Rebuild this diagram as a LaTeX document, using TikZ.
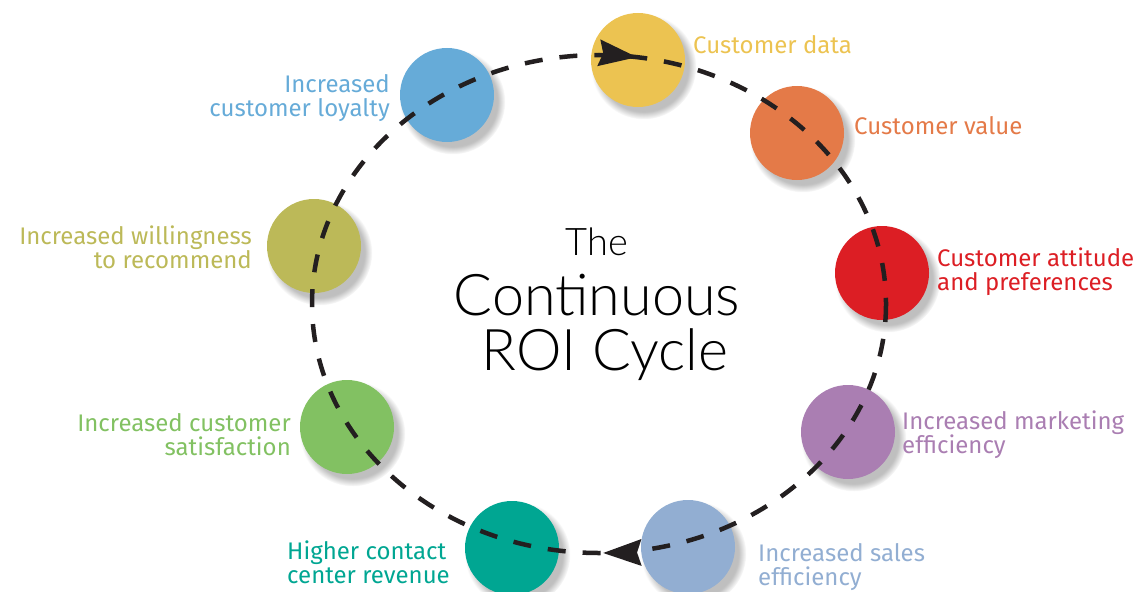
\documentclass[tikz,border=0pt]{standalone}
\usepackage{fontspec}
\usepackage{tikz}
\usetikzlibrary{arrows.meta}
\usetikzlibrary{shadows}
\usetikzlibrary{decorations.markings}
\newfontfamily\labelfont{Fira Sans}
\newfontfamily\titlefont{Lato Light}
\definecolor{ink}{RGB}{35,31,32}
\definecolor{cdata}{RGB}{236,195,81}
\definecolor{cvalue}{RGB}{228,122,72}
\definecolor{cattit}{RGB}{220,30,36}
\definecolor{mkt}{RGB}{170,126,178}
\definecolor{sales}{RGB}{146,174,210}
\definecolor{contact}{RGB}{0,166,146}
\definecolor{satis}{RGB}{130,193,98}
\definecolor{recom}{RGB}{188,185,88}
\definecolor{loyal}{RGB}{102,171,216}

\begin{document}
\begin{tikzpicture}[x=1pt, y=-1pt,
ball/.style={circle, inner sep=0pt, minimum size=94pt, fill=#1,
  circular drop shadow={shadow xshift=5pt, shadow yshift=-6pt, shadow scale=1.12, opacity=.5}},
lab/.style={text=#1, inner sep=0pt, font=\labelfont\fontsize{24}{24}\selectfont},
loop/.style={draw=ink, line width=4.5pt, dash pattern=on 18pt off 17pt}]

\useasboundingbox (0,0) rectangle (1139,591);

% balls
\node [ball=cdata] (data) at (638,60) {};
\node [ball=cvalue] (value) at (797,133) {};
\node [ball=cattit] (attit) at (882,273) {};
\node [ball=mkt] (mkt) at (848,432) {};
\node [ball=sales] (sales) at (688,547) {};
\node [ball=contact] (contact) at (512,548) {};
\node [ball=satis] (satis) at (347,427) {};
\node [ball=recom] (recom) at (314,246) {};
\node [ball=loyal] (loyal) at (447,95) {};

% the cycle, clockwise
\coordinate (mid) at (599,304);
\draw [loop, postaction=decorate, decoration={markings,
  mark=at position 0.2476 with {\arrow{Stealth[length=38pt, width=26pt, inset=4pt]}},
  mark=at position 0.7726 with {\arrow{Stealth[length=38pt, width=26pt, inset=4pt]}}}]
  (mid) ellipse [x radius=287, y radius=249];

% labels (base = last line)
\node [lab=cdata, anchor=base west] (datatxt) at (693,54) {Customer data};
\node [lab=cvalue, anchor=base west] (valuetxt) at (854,135) {Customer value};
\node [lab=cattit, anchor=base west, align=left] (attittxt) at (937,290) {Customer attitude\\and preferences};
\node [lab=mkt, anchor=base west, align=left] (mkttxt) at (902,453) {Increased marketing\\efficiency};
\node [lab=sales, anchor=base west, align=left] (salestxt) at (758,585) {Increased sales\\efficiency};
\node [lab=contact, anchor=base west, align=left] (contacttxt) at (287,583) {Higher contact\\center revenue};
\node [lab=satis, anchor=base east, align=right] (satistxt) at (291,455) {Increased customer\\satisfaction};
\node [lab=recom, anchor=base east, align=right] (recomtxt) at (252,268) {Increased willingness\\to recommend};
\node [lab=loyal, anchor=base east, align=right] (loyaltxt) at (390,117) {Increased\\customer loyalty};

% title
\node [anchor=base, inner sep=0pt, font=\titlefont\fontsize{38}{38}\selectfont] (the) at (597,255) {The};
\node [anchor=base, inner sep=0pt, font=\titlefont\fontsize{57.5}{57.5}\selectfont] (cont) at (597,315) {Continuous};
\node [anchor=base, inner sep=0pt, font=\titlefont\fontsize{57.5}{57.5}\selectfont] (roi) at (605,370) {ROI Cycle};
\end{tikzpicture}
\end{document}
